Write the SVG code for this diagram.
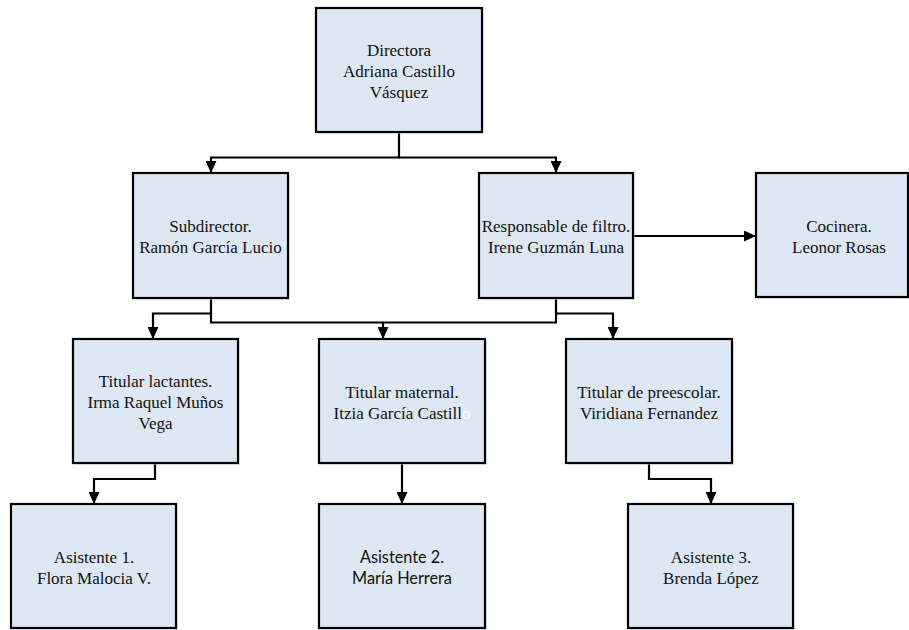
<svg xmlns="http://www.w3.org/2000/svg" width="909" height="630" viewBox="0 0 909 630">
<style>
.box{fill:#dde8f4;stroke:#000;stroke-width:2.2}
.sh{fill:#c9d6e6;opacity:0.5}
.t{font-family:"Liberation Serif","Times New Roman",serif;font-size:17px;fill:#111;text-anchor:middle}
.s{font-family:Lato,"Liberation Sans",sans-serif;font-size:16.3px;fill:#111;text-anchor:middle}
.c{fill:none;stroke:#000;stroke-width:2.2}
</style>
<defs>
<marker id="ah" markerWidth="12" markerHeight="11" refX="11" refY="5.5" orient="auto" markerUnits="userSpaceOnUse">
<path d="M0,0 L12,5.5 L0,11 z" fill="#000"/>
</marker>
</defs>
<rect width="909" height="630" fill="#fff"/>
<g id="connectors">
<path class="c" d="M399,132 V157.5 H211 V172" marker-end="url(#ah)"/>
<path class="c" d="M399,157.5 H556 V172" marker-end="url(#ah)"/>
<path class="c" d="M633,236 H755" marker-end="url(#ah)"/>
<path class="c" d="M211,298 V322.5 H556 V298"/>
<path class="c" d="M211,313.5 H153 V338" marker-end="url(#ah)"/>
<path class="c" d="M556,313.5 H613 V338" marker-end="url(#ah)"/>
<path class="c" d="M383,322.5 V338" marker-end="url(#ah)"/>
<path class="c" d="M155,463 V479 H94 V503" marker-end="url(#ah)"/>
<path class="c" d="M402,463 V503" marker-end="url(#ah)"/>
<path class="c" d="M649,463 V479 H711 V503" marker-end="url(#ah)"/>
</g>
<g id="directora">
<rect class="sh" x="318" y="10" width="166" height="124"/>
<rect class="box" x="316" y="8" width="166" height="124"/>
<text class="t" x="399" y="56">Directora</text>
<text class="t" x="399" y="77">Adriana Castillo</text>
<text class="t" x="399" y="98">Vásquez</text>
</g>
<g id="subdirector">
<rect class="sh" x="135" y="175" width="155" height="125"/>
<rect class="box" x="133" y="173" width="155" height="125"/>
<text class="t" x="210.5" y="232">Subdirector.</text>
<text class="t" x="210.5" y="253">Ramón García Lucio</text>
</g>
<g id="responsable">
<rect class="sh" x="481" y="175" width="154" height="125"/>
<rect class="box" x="479" y="173" width="154" height="125"/>
<text class="t" x="556" y="232">Responsable de filtro.</text>
<text class="t" x="556" y="253">Irene Guzmán Luna</text>
</g>
<g id="cocinera">
<rect class="sh" x="758" y="175" width="152" height="124"/>
<rect class="box" x="756" y="173" width="152" height="124"/>
<text class="t" x="839" y="232">Cocinera.</text>
<text class="t" x="839" y="253">Leonor Rosas</text>
</g>
<g id="titular-lactantes">
<rect class="sh" x="75" y="341" width="165" height="124"/>
<rect class="box" x="73" y="339" width="165" height="124"/>
<text class="t" x="155.5" y="387">Titular lactantes.</text>
<text class="t" x="155.5" y="408">Irma Raquel Muños</text>
<text class="t" x="155.5" y="429">Vega</text>
</g>
<g id="titular-maternal">
<rect class="sh" x="321" y="341" width="166" height="124"/>
<rect class="box" x="319" y="339" width="166" height="124"/>
<text class="t" x="402" y="398">Titular maternal.</text>
<text class="t" x="402" y="419">Itzia García Castill<tspan fill="#fff">o</tspan></text>
</g>
<g id="titular-preescolar">
<rect class="sh" x="568" y="341" width="166" height="124"/>
<rect class="box" x="566" y="339" width="166" height="124"/>
<text class="t" x="649" y="398">Titular de preescolar.</text>
<text class="t" x="649" y="419">Viridiana Fernandez</text>
</g>
<g id="asistente-1">
<rect class="sh" x="13" y="506" width="165" height="124"/>
<rect class="box" x="11" y="504" width="165" height="124"/>
<text class="t" x="94" y="563">Asistente 1.</text>
<text class="t" x="94" y="584">Flora Malocia V.</text>
</g>
<g id="asistente-2">
<rect class="sh" x="321" y="506" width="166" height="124"/>
<rect class="box" x="319" y="504" width="166" height="124"/>
<text class="s" x="402" y="563">Asistente 2.</text>
<text class="s" x="402" y="584">María Herrera</text>
</g>
<g id="asistente-3">
<rect class="sh" x="630" y="506" width="165" height="124"/>
<rect class="box" x="628" y="504" width="165" height="124"/>
<text class="t" x="711" y="563">Asistente 3.</text>
<text class="t" x="711" y="584">Brenda López</text>
</g>
</svg>
